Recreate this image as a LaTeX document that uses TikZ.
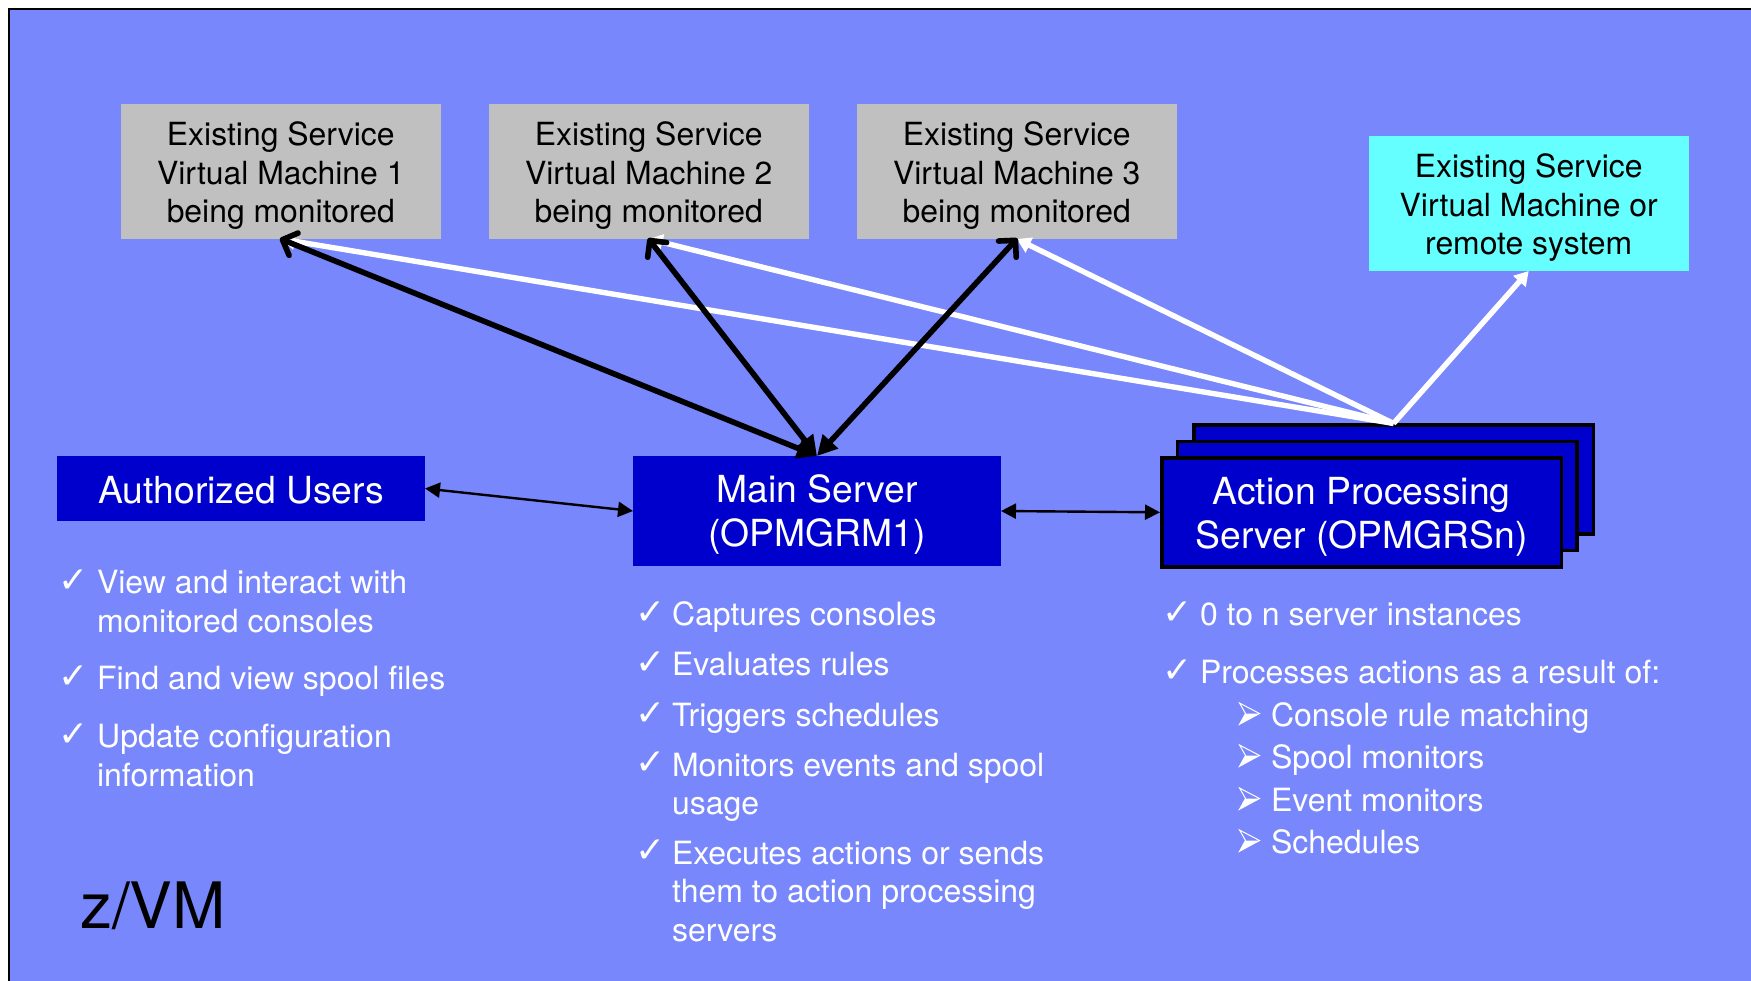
\documentclass[tikz,border=0pt]{standalone}
\usepackage{fontspec}
\setmainfont{TeX Gyre Heros}
\newfontfamily\symfont{DejaVu Sans}
\usetikzlibrary{arrows.meta}
\definecolor{bgblue}{HTML}{7887FB}
\definecolor{boxblue}{HTML}{0000CC}
\definecolor{vmgrey}{HTML}{C0C0C0}
\definecolor{vmcyan}{HTML}{66FFFF}
\tikzset{
  vmbox/.style={fill=vmgrey,text=black,minimum width=320.4pt,minimum height=135pt,inner sep=0pt,outer sep=0pt,align=center,
    font=\fontsize{31.9}{38.5}\selectfont},
  srvbox/.style={fill=boxblue,text=white,inner sep=0pt,outer sep=0pt,align=center,font=\fontsize{37.3}{43.6}\selectfont},
  apsbox/.style={srvbox,draw=black,line width=3.5pt,outer sep=.5\pgflinewidth,minimum width=399.5pt,minimum height=109pt},
  listtext/.style={text=white,inner sep=0pt,outer sep=0pt,anchor=north west,align=left,font=\fontsize{32}{38.5}\selectfont},
  chk/.style={text=white,inner sep=0pt,outer sep=0pt,anchor=base west,font=\symfont\fontsize{36}{36}\selectfont},
  blackarrow/.style={draw=black,line width=5.6pt,shorten >=-1pt,{Triangle[length=20pt,width=20pt]}-{Straight Barb[length=12pt,width=24pt,round,line width=5.6pt]}},
  whitearrow/.style={draw=white,line width=5.4pt,-{Triangle[length=14pt,width=16pt]}},
  thinarrow/.style={draw=black,line width=2.4pt,{Triangle[length=15pt,width=15pt]}-{Triangle[length=15pt,width=15pt]}},
}
\newcommand{\tp}[1]{\rule{0pt}{#1pt}}
\newcommand{\listentry}[5]{% name, mark x, text x, baseline y, text
  \node[chk] (#1m) at (#2,#4-2) {✓};
  \node[listtext] (#1) at (#3,#4-27) {\strut #5};
}
\newcommand{\subentry}[3]{%
  \draw[white,line width=1pt,line join=miter] (1239.5,#3-24) -- (1259.5,#3-13.5) -- (1239.5,#3-2.7) -- (1245.5,#3-13.5) -- cycle;
  \fill[white] (1259.5,#3-13.5) -- (1239.5,#3-2.7) -- (1245.5,#3-13.5) -- cycle;
  \node[listtext] (#1) at (1271,#3-27) {\strut #2};
}
\begin{document}
\begin{tikzpicture}[x=1pt,y=-1pt]
\useasboundingbox (0,0) rectangle (1751,980);
\clip (0,0) rectangle (1751,980);
\fill[white] (0,0) rectangle (1751,980);
\draw[fill=bgblue,draw=black,line width=2pt] (9,8.5) rectangle (1770,1000);

\node[vmbox] (g1) at (280.8,171.5) {\tp{32}Existing Service\\Virtual Machine 1\\being monitored};
\node[vmbox] (g2) at (648.7,171.5) {\tp{32}Existing Service\\Virtual Machine 2\\being monitored};
\node[vmbox] (g3) at (1016.7,171.5) {\tp{32}Existing Service\\Virtual Machine 3\\being monitored};
\node[vmbox,fill=vmcyan] (cy) at (1528.7,203.5) {\tp{32}Existing Service\\Virtual Machine or\\remote system};

\node[srvbox,minimum width=368pt,minimum height=65pt] (au) at (241,488.5) {\tp{30}Authorized Users};
\node[srvbox,minimum width=368pt,minimum height=110pt] (ms) at (817,511) {\tp{35}Main Server\\(OPMGRM1)};

\node[apsbox] (ab) at (1393.5,479.7) {};
\node[apsbox] (am) at (1377.2,496) {};
\node[apsbox,font=\fontsize{37.3}{44.7}\selectfont] (af) at (1361.5,512.3) {\tp{36}Action Processing\\Server (OPMGRSn)};

\draw[whitearrow] (ab.north) -- (g1.south);
\draw[whitearrow] (ab.north) -- (g2.south);
\draw[whitearrow] (ab.north) -- (g3.south);
\draw[whitearrow] (ab.north) -- (cy.south);

\draw[blackarrow] (ms.north) -- (g1.south);
\draw[blackarrow] (ms.north) -- (g2.south);
\draw[blackarrow] (ms.north) -- (g3.south);

\draw[thinarrow] (au.east) -- (ms.west);
\draw[thinarrow] (ms.east) -- (af.west);

\listentry{a1}{58}{97}{594}{View and interact with\\monitored consoles}
\listentry{a2}{58}{97}{690}{Find and view spool files}
\listentry{a3}{58}{97}{748}{Update configuration\\information}

\listentry{b1}{635}{672}{626}{Captures consoles}
\listentry{b2}{635}{672}{676}{Evaluates rules}
\listentry{b3}{635}{672}{727}{Triggers schedules}
\listentry{b4}{635}{672}{776.5}{Monitors events and spool\\usage}
\listentry{b5}{635}{672}{864.5}{Executes actions or sends\\them to action processing\\servers}

\listentry{c1}{1162}{1200}{626}{0 to n server instances}
\listentry{c2}{1162}{1200}{684}{Processes actions as a result of:}
\subentry{s1}{Console rule matching}{727}
\subentry{s2}{Spool monitors}{769}
\subentry{s3}{Event monitors}{812}
\subentry{s4}{Schedules}{854}

\node[text=black,inner sep=0pt,anchor=base west,font=\fontsize{64}{70}\selectfont] (zvm) at (80,928) {z/VM};
\end{tikzpicture}
\end{document}
